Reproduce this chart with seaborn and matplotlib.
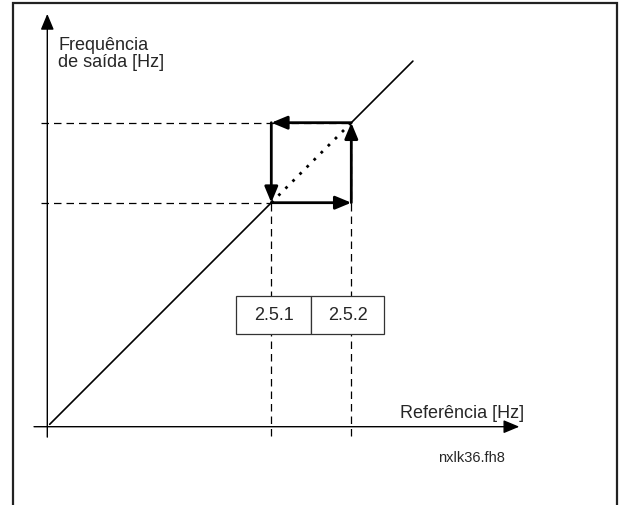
import matplotlib
matplotlib.use("Agg")
import matplotlib.pyplot as plt
import seaborn as sns
import pandas as pd
from matplotlib.patches import Rectangle

# schematic values (Hz): output frequency follows the reference,
# with a hysteresis band between the two parameters
line_start = 0.3
line_end = 45.7
switch_low = 28.0    # par. 2.5.1
switch_high = 38.0   # par. 2.5.2
param_names = ["2.5.1", "2.5.2"]
x_label = "Referência [Hz]"
y_label = "Frequência\nde saída [Hz]"
fig_code = "nxlk36.fh8"

sns.set_style("white")
plt.rcParams["font.family"] = ["Liberation Sans", "DejaVu Sans"]

fig = plt.figure(figsize=(6.21, 5.06), dpi=100)
ax = fig.add_axes([0, 0, 1, 1])
# 8 px per Hz, origin placed at pixel (47.3, 427.7)
px = 8.0
ax.set_xlim(-47.3 / px, (621 - 47.3) / px)
ax.set_ylim(-(506 - 427.7) / px, 427.7 / px)
ax.axis("off")

head = "-|>,head_length=0.48,head_width=0.2"


def arrow(x0, y0, x1, y1, lw):
    ax.annotate("", xy=(x1, y1), xytext=(x0, y0),
                arrowprops=dict(arrowstyle=head, mutation_scale=20, lw=lw,
                                color="black", shrinkA=0, shrinkB=0))


# axes with arrows
arrow(-1.66, 0, 59.0, 0, 1.0)
arrow(0, -1.3, 0, 51.6, 1.0)

# characteristic line
lower = pd.DataFrame({"ref": [line_start, switch_low], "out": [line_start, switch_low]})
middle = pd.DataFrame({"ref": [switch_low, switch_high], "out": [switch_low, switch_high]})
upper = pd.DataFrame({"ref": [switch_high, line_end], "out": [switch_high, line_end]})
sns.lineplot(data=lower, x="ref", y="out", color="black", lw=1.2, ax=ax)
sns.lineplot(data=upper, x="ref", y="out", color="black", lw=1.2, ax=ax)
sns.lineplot(data=middle, x="ref", y="out", color="black", lw=2.0,
             linestyle=(0, (1, 2.6)), ax=ax)
ax.set_xlabel("")
ax.set_ylabel("")

# dashed guides
dash = (0, (6, 4))
switches = [switch_low, switch_high]
ax.hlines(switches, -0.8, switches, colors="black", lw=0.9, linestyles=[dash])
ax.vlines(switches, -1.2, switches, colors="black", lw=0.9, linestyles=[dash])

# hysteresis loop
arrow(switch_low, switch_low, switch_high, switch_low, 2.0)
arrow(switch_high, switch_low, switch_high, switch_high, 2.0)
arrow(switch_high, switch_high, switch_low, switch_high, 2.0)
arrow(switch_low, switch_high, switch_low, switch_low, 2.0)

# parameter boxes
cell_edges = [23.6, 33.0, 42.1]
box_y0, box_y1 = 11.6, 16.4
for i, name in enumerate(param_names):
    ax.add_patch(Rectangle((cell_edges[i], box_y0), cell_edges[i + 1] - cell_edges[i],
                           box_y1 - box_y0, facecolor="white", edgecolor="#333333",
                           lw=0.9, zorder=3))
    ax.text((cell_edges[i] + cell_edges[i + 1]) / 2, (box_y0 + box_y1) / 2, name,
            ha="center", va="center", fontsize=13, zorder=4)

# labels
ax.text(1.34, 48.9, y_label, ha="left", va="top", fontsize=13, linespacing=1.05)
ax.text(59.6, 1.21, x_label, ha="right", va="baseline", fontsize=13)
ax.text(48.9, -4.29, fig_code, ha="left", va="baseline", fontsize=10.5)

# page frame
fig.add_artist(Rectangle((13 / 621, -0.05), (617 - 13) / 621, 1.05 - 4 / 506,
                         transform=fig.transFigure, fill=False,
                         edgecolor="#222222", lw=1.6))

fig.savefig("out.png", dpi=100)
